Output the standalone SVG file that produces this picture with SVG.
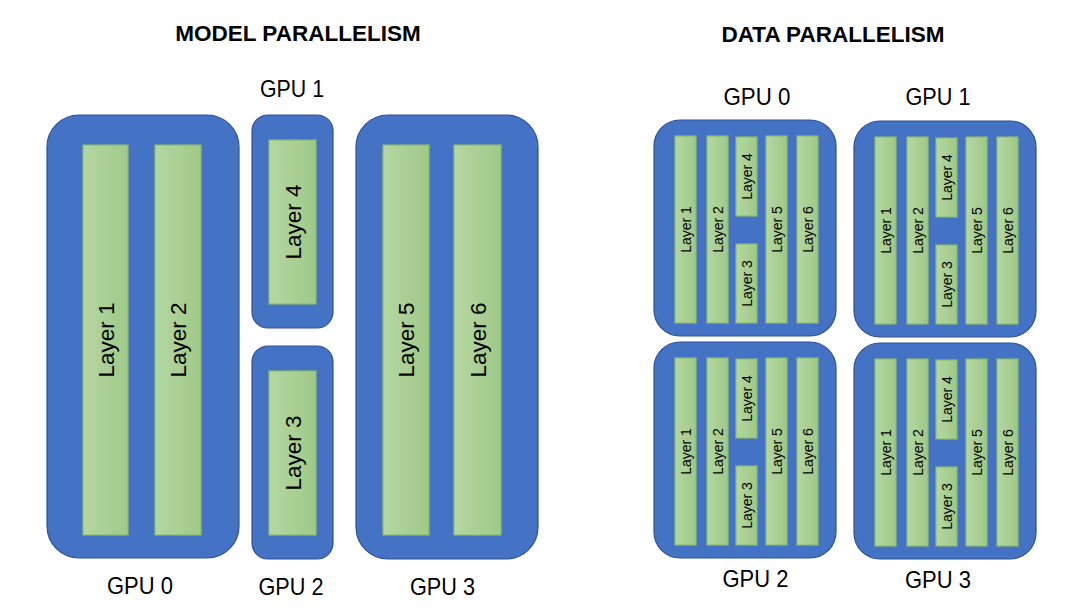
<svg xmlns="http://www.w3.org/2000/svg" width="1075" height="616" viewBox="0 0 1075 616">
<defs>
<linearGradient id="lg" x1="0" y1="0" x2="1" y2="0">
<stop offset="0" stop-color="#b5d7a3"/>
<stop offset="1" stop-color="#9fc987"/>
</linearGradient>
<g id="dp">
<rect class="gpu" x="0" y="0" width="182" height="216" rx="26"/>
<rect class="layer" x="21" y="16" width="21" height="187"/>
<rect class="layer" x="53" y="16" width="21" height="187"/>
<rect class="layer" x="82" y="17" width="21" height="79"/>
<rect class="layer" x="82" y="124" width="21" height="79"/>
<rect class="layer" x="112" y="16" width="21" height="187"/>
<rect class="layer" x="143" y="16" width="21" height="187"/>
<text class="sm" transform="translate(36.5,109.5) rotate(-90)">Layer 1</text>
<text class="sm" transform="translate(68.5,109.5) rotate(-90)">Layer 2</text>
<text class="sm" transform="translate(97.5,56.5) rotate(-90)">Layer 4</text>
<text class="sm" transform="translate(97.5,163.5) rotate(-90)">Layer 3</text>
<text class="sm" transform="translate(127.5,109.5) rotate(-90)">Layer 5</text>
<text class="sm" transform="translate(158.5,109.5) rotate(-90)">Layer 6</text>
</g>
</defs>
<style>
.gpu{fill:#4472c4;stroke:#2f528f;stroke-width:1.2}
.layer{fill:url(#lg);stroke:#8cbb6b;stroke-width:1.2}
text{font-family:"Liberation Sans",Arial,sans-serif;fill:#000;text-anchor:middle}
.title{font-size:22.5px;font-weight:bold}
.lbl{font-size:24.5px}
.big{font-size:22.5px}
.sm{font-size:14px}
</style>
<rect width="1075" height="616" fill="#fff"/>

<text class="title" x="298" y="41">MODEL PARALLELISM</text>
<text class="title" x="833" y="42">DATA PARALLELISM</text>

<g id="mp-gpu0">
<rect class="gpu" x="47" y="115" width="192" height="443" rx="32"/>
<rect class="layer" x="83" y="145" width="45" height="390"/>
<rect class="layer" x="155" y="145" width="46" height="390"/>
<text class="big" transform="translate(113.5,340) rotate(-90)">Layer 1</text>
<text class="big" transform="translate(186,340) rotate(-90)">Layer 2</text>
<text class="lbl" x="140" y="594" textLength="66" lengthAdjust="spacingAndGlyphs">GPU 0</text>
</g>
<g id="mp-gpu1">
<rect class="gpu" x="252" y="115" width="81" height="213" rx="16"/>
<rect class="layer" x="269" y="140" width="47" height="164"/>
<text class="big" transform="translate(300.5,222) rotate(-90)">Layer 4</text>
<text class="lbl" x="292" y="97" textLength="64" lengthAdjust="spacingAndGlyphs">GPU 1</text>
</g>
<g id="mp-gpu2">
<rect class="gpu" x="252" y="346" width="81" height="213" rx="16"/>
<rect class="layer" x="269" y="371" width="47" height="164"/>
<text class="big" transform="translate(300.5,453) rotate(-90)">Layer 3</text>
<text class="lbl" x="291" y="595" textLength="65" lengthAdjust="spacingAndGlyphs">GPU 2</text>
</g>
<g id="mp-gpu3">
<rect class="gpu" x="356" y="115" width="182" height="444" rx="32"/>
<rect class="layer" x="383" y="145" width="46" height="390"/>
<rect class="layer" x="454" y="145" width="47" height="390"/>
<text class="big" transform="translate(414,340) rotate(-90)">Layer 5</text>
<text class="big" transform="translate(485.5,340) rotate(-90)">Layer 6</text>
<text class="lbl" x="442.5" y="595" textLength="65" lengthAdjust="spacingAndGlyphs">GPU 3</text>
</g>

<g id="dp-gpu0">
<use href="#dp" x="654" y="120"/>
<text class="lbl" x="757" y="105" textLength="67" lengthAdjust="spacingAndGlyphs">GPU 0</text>
</g>
<g id="dp-gpu1">
<use href="#dp" x="854" y="121"/>
<text class="lbl" x="938" y="105" textLength="65" lengthAdjust="spacingAndGlyphs">GPU 1</text>
</g>
<g id="dp-gpu2">
<use href="#dp" x="654" y="342"/>
<text class="lbl" x="755.5" y="587" textLength="66" lengthAdjust="spacingAndGlyphs">GPU 2</text>
</g>
<g id="dp-gpu3">
<use href="#dp" x="854" y="343"/>
<text class="lbl" x="938" y="588" textLength="66" lengthAdjust="spacingAndGlyphs">GPU 3</text>
</g>
<g id="connectors"/>
</svg>
